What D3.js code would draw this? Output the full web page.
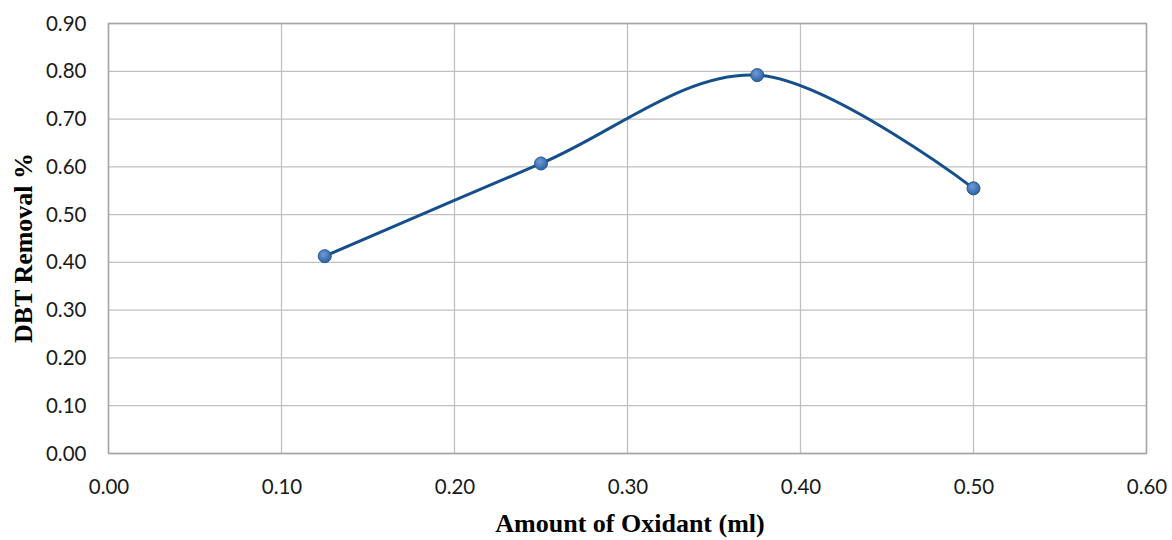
<!DOCTYPE html>
<html><head><meta charset="utf-8">
<script src="https://cdn.jsdelivr.net/npm/d3@7"></script>
<style>body{margin:0;background:#fff}</style>
</head><body>
<svg id="c" width="1172" height="540"></svg>
<script>
const xValues = [0.125, 0.25, 0.375, 0.5];
const yValues = [0.413, 0.607, 0.792, 0.555];
const xTicks = [0, 0.1, 0.2, 0.3, 0.4, 0.5, 0.6];
const yTicks = [0, 0.1, 0.2, 0.3, 0.4, 0.5, 0.6, 0.7, 0.8, 0.9];
const xTitle = "Amount of Oxidant (ml)";
const yTitle = "DBT Removal %";

const svg = d3.select("#c");
const L = 108.5, R = 1146.5, T = 23.5, B = 453.5;
const x = d3.scaleLinear().domain([0, 0.6]).range([L, R]);
const y = d3.scaleLinear().domain([0, 0.9]).range([B, T]);

const defs = svg.append("defs");
const g = defs.append("radialGradient").attr("id","mk").attr("cx","40%").attr("cy","35%").attr("r","65%");
g.append("stop").attr("offset","0%").attr("stop-color","#6d9bd6");
g.append("stop").attr("offset","100%").attr("stop-color","#2d62a6");

// grid
svg.append("g").selectAll("line.h").data(yTicks).join("line")
  .attr("x1", L).attr("x2", R).attr("y1", d=>y(d)).attr("y2", d=>y(d))
  .attr("stroke", "#c0c0c0").attr("stroke-width", 1.3);
svg.append("g").selectAll("line.v").data(xTicks).join("line")
  .attr("y1", T).attr("y2", B).attr("x1", d=>x(d)).attr("x2", d=>x(d))
  .attr("stroke", "#c0c0c0").attr("stroke-width", 1.3);
svg.append("rect").attr("x", L).attr("y", T).attr("width", R-L).attr("height", B-T)
  .attr("fill","none").attr("stroke","#a6a6a6").attr("stroke-width",1.5);

// axes
const xa = svg.append("g").attr("transform", `translate(0,${B})`)
  .call(d3.axisBottom(x).tickValues(xTicks).tickFormat(d3.format(".2f")).tickSize(0).tickPadding(26));
const ya = svg.append("g").attr("transform", `translate(${L},0)`)
  .call(d3.axisLeft(y).tickValues(yTicks).tickFormat(d3.format(".2f")).tickSize(0).tickPadding(22));
[xa, ya].forEach(a => {
  a.select(".domain").remove();
  a.selectAll("text").attr("font-family","Lato, 'Open Sans', sans-serif").attr("font-size", 20.5).attr("fill","#1a1a1a");
});

// line
const data = xValues.map((v,i)=>({x:v, y:yValues[i]}));
svg.append("path").datum(data)
  .attr("d", d3.line().x(d=>x(d.x)).y(d=>y(d.y)).curve(d3.curveCardinal.tension(0)))
  .attr("fill","none").attr("stroke","#164f8d").attr("stroke-width",3);
svg.append("g").selectAll("circle").data(data).join("circle")
  .attr("cx", d=>x(d.x)).attr("cy", d=>y(d.y)).attr("r", 6.5)
  .attr("fill","url(#mk)").attr("stroke","#25568f").attr("stroke-width",1);

// titles
svg.append("text").attr("x", 630).attr("y", 532).attr("text-anchor","middle")
  .attr("font-family","'Liberation Serif', serif").attr("font-weight","bold").attr("font-size",26)
  .text(xTitle);
svg.append("text").attr("transform", `translate(32,248) rotate(-90)`).attr("text-anchor","middle")
  .attr("font-family","'Liberation Serif', serif").attr("font-weight","bold").attr("font-size",26)
  .text(yTitle);
</script>
</body></html>
